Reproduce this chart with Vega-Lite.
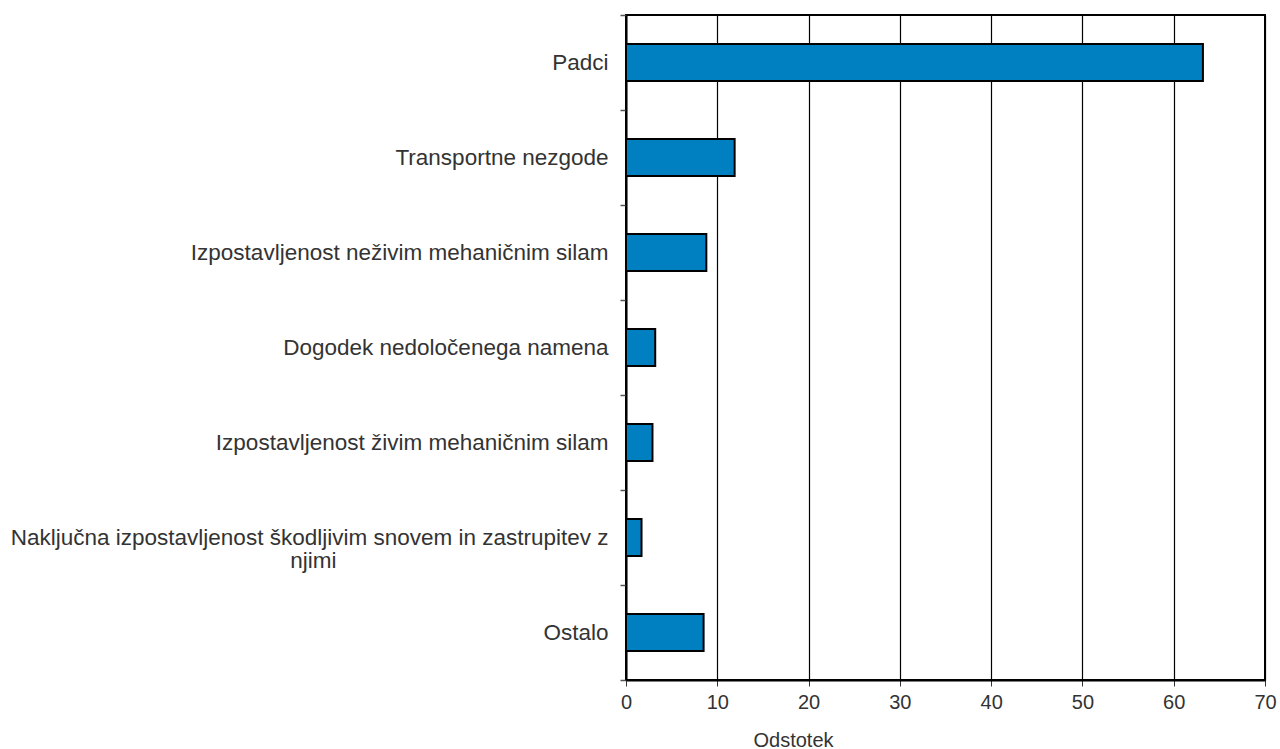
{
  "$schema": "https://vega.github.io/schema/vega-lite/v6.json",
  "width": 639,
  "height": 665,
  "autosize": {"type": "none"},
  "padding": {"left": 626, "top": 15, "right": 15, "bottom": 69},
  "background": "white",
  "config": {
    "font": "Liberation Sans",
    "view": {"stroke": "black", "strokeWidth": 2},
    "axis": {"labelColor": "#333333", "titleColor": "#333333", "titleFontWeight": "normal"}
  },
  "data": {
    "values": [
      {"vzrok": "Padci", "odstotek": 63.2},
      {"vzrok": "Transportne nezgode", "odstotek": 11.9},
      {"vzrok": "Izpostavljenost neživim mehaničnim silam", "odstotek": 8.8},
      {"vzrok": "Dogodek nedoločenega namena", "odstotek": 3.2},
      {"vzrok": "Izpostavljenost živim mehaničnim silam", "odstotek": 2.9},
      {"vzrok": "Naključna izpostavljenost škodljivim snovem in zastrupitev z njimi", "odstotek": 1.7},
      {"vzrok": "Ostalo", "odstotek": 8.5}
    ]
  },
  "mark": {"type": "bar", "color": "#0080c0", "stroke": "black", "strokeWidth": 2, "height": {"band": 0.39}},
  "encoding": {
    "y": {
      "field": "vzrok",
      "type": "nominal",
      "sort": null,
      "title": null,
      "scale": {"paddingInner": 0, "paddingOuter": 0},
      "axis": {
        "domainColor": "black",
        "domainWidth": 2,
        "tickBand": "extent",
        "tickColor": "#555555",
        "tickSize": 6,
        "tickWidth": 1.5,
        "labelPadding": 12,
        "labelFontSize": 22.5,
        "labelLimit": 700,
        "labelLineHeight": 23,
        "labelExpr": "datum.value == 'Naključna izpostavljenost škodljivim snovem in zastrupitev z njimi' ? ['Naključna izpostavljenost škodljivim snovem in zastrupitev z', 'njimi\u2800\u2800\u2800\u2800\u2800\u2800\u2800\u2800\u2800\u2800\u2800\u2800\u2800\u2800\u2800\u2800'] : datum.value"
      }
    },
    "x": {
      "field": "odstotek",
      "type": "quantitative",
      "title": "Odstotek",
      "scale": {"domain": [0, 70], "nice": false},
      "axis": {
        "values": [0, 10, 20, 30, 40, 50, 60, 70],
        "grid": true,
        "gridColor": "black",
        "gridWidth": 1.2,
        "gridOpacity": 1,
        "domainColor": "black",
        "domainWidth": 2,
        "tickColor": "#333333",
        "tickSize": 6,
        "labelPadding": 6,
        "labelFlush": false,
        "labelFontSize": 20,
        "titleFontSize": 20,
        "titlePadding": 18,
        "titleAnchor": null,
        "titleX": 167,
        "titleAlign": "center"
      }
    }
  }
}
